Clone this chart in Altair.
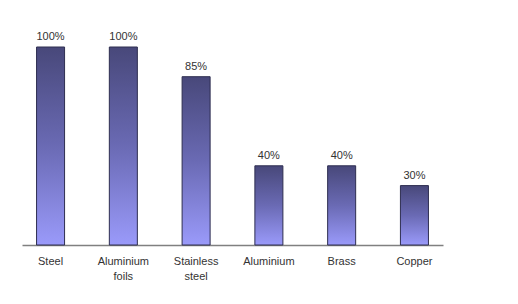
import altair as alt
import pandas as pd

materials = ["Steel", "Aluminium\nfoils", "Stainless\nsteel", "Aluminium", "Brass", "Copper"]
percent = [100, 100, 85, 40, 40, 30]
labels = ["100%", "100%", "85%", "40%", "40%", "30%"]

df = pd.DataFrame({"material": materials, "value": percent, "label": labels})

grad = alt.Gradient(
    gradient="linear",
    stops=[
        alt.GradientStop(color="#48487a", offset=0),
        alt.GradientStop(color="#6a6ab4", offset=0.5),
        alt.GradientStop(color="#9a9afa", offset=1),
    ],
    x1=0, x2=0, y1=0, y2=1,
)

x = alt.X(
    "material:N",
    sort=materials,
    scale=alt.Scale(paddingInner=0.615, paddingOuter=0.2),
    axis=alt.Axis(
        title=None,
        labelAngle=0,
        ticks=False,
        domainColor="#808080",
        domainWidth=1.5,
        labelColor="#333333",
        labelFont="Liberation Sans",
        labelFontSize=11,
        labelPadding=10,
        labelLineHeight=15,
        labelExpr="split(datum.label, '\\n')",
        grid=False,
    ),
)
y = alt.Y("value:Q", scale=alt.Scale(domain=[0, 100]), axis=None)

bars = alt.Chart(df).mark_bar(
    color=grad, stroke="#2e2e50", strokeWidth=1
).encode(x=x, y=y)

text = alt.Chart(df).mark_text(
    baseline="bottom", dy=-5, font="Liberation Sans", fontSize=11, color="#333333"
).encode(x=alt.X("material:N", sort=materials), y="value:Q", text="label:N")

chart = (bars + text).properties(
    width=421, height=198,
    autosize=alt.AutoSizeParams(type="none"),
    padding={"left": 22, "top": 47, "right": 75, "bottom": 59},
).configure(background="white").configure_view(stroke=None, strokeWidth=0)

chart.save("out.html", embed_options={"renderer": "svg", "actions": False})
